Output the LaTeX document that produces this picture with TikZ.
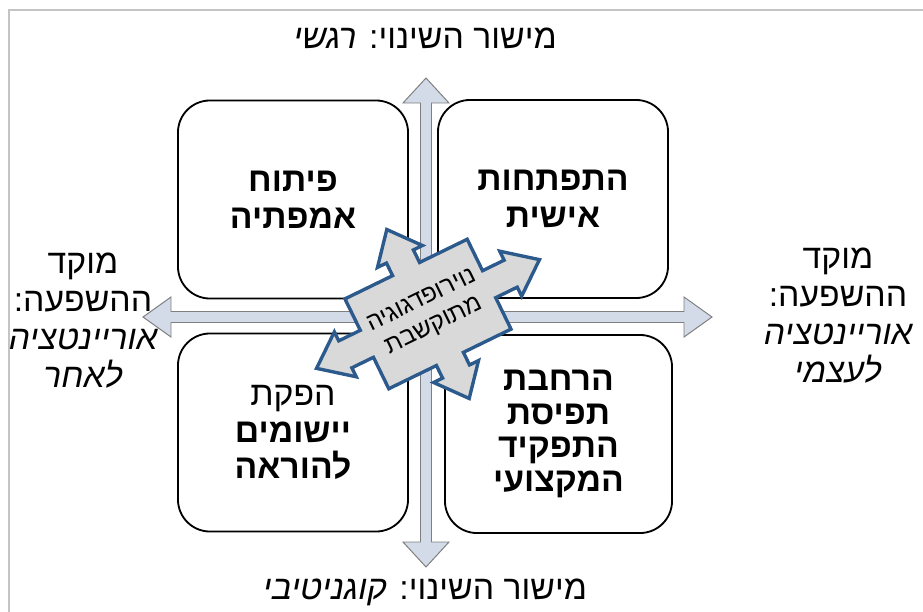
\documentclass[tikz,border=0pt]{standalone}
\usepackage{fontspec}
\setmainfont[Script=Hebrew]{Liberation Sans}
\TeXXeTstate=1
\newcommand{\heb}[1]{\beginR #1\endR}
\definecolor{axisfill}{HTML}{D3DAE8}
\definecolor{axisline}{HTML}{7F7F7F}
\definecolor{hubfill}{HTML}{D9D9D9}
\definecolor{hubline}{HTML}{2C5A8C}
\definecolor{framegrey}{HTML}{C4C4C4}
\def\Wbox{5.75cm}
\def\Hbox{4.95cm}
\tikzstyle{every node} = [font=\fontsize{24}{26}\selectfont]
\tikzstyle{quadrant} = [rectangle, minimum width=\Wbox, minimum height=\Hbox, rounded corners=0.8cm, draw=black, line width=1.3pt, fill=white, align=center, font=\fontsize{24}{26}\selectfont\bfseries]
\tikzstyle{axislabel} = [align=center, font=\fontsize{24}{27}\selectfont]
\tikzstyle{axis} = [draw=axisline, fill=axisfill, line width=0.7pt, line join=miter]
\tikzstyle{hubarrow} = [draw=hubline, fill=hubfill, line width=2.4pt, line join=miter]

\begin{document}
\begin{tikzpicture}[x=0.025cm, y=-0.025cm]
\useasboundingbox (0,0) rectangle (923,612);
% Frame
    \draw[framegrey, line width=1.5pt] (9,612) -- (9,10) -- (923,10);
% Axis texts
    \node (emo)   [axislabel] at (425,38)  {\heb{מישור השינוי: \textit{רגשי}}};
    \node (cog)   [axislabel] at (425,592) {\heb{מישור השינוי: \textit{קוגניטיבי}}};
    \node (other) [axislabel] at (83,321)  {\heb{מוקד}\\\heb{ההשפעה:}\\\heb{\textit{אוריינטציה}}\\\heb{\textit{לאחר}}};
    \node (self)  [axislabel] at (838,316) {\heb{מוקד}\\\heb{ההשפעה:}\\\heb{\textit{אוריינטציה}}\\\heb{\textit{לעצמי}}};
% Axes
    % vertical
    \draw[axis] (426,78) -- (449,103) -- (431.5,103) -- (431.5,542) -- (449,542) -- (426,567)
        -- (403,542) -- (420.5,542) -- (420.5,103) -- (403,103) -- cycle;
    % horizontal
    \draw[axis] (143,317) -- (171,297) -- (171,311.5) -- (684,311.5) -- (684,297) -- (712,317)
        -- (684,337) -- (684,322.5) -- (171,322.5) -- (171,337) -- cycle;
% Quadrants
    \node (empathy) [quadrant] at (293,199.5) {\heb{פיתוח}\\\heb{אמפתיה}};
    \node (growth)  [quadrant] at (553,199)   {\heb{התפתחות}\\\heb{אישית}};
    \node (apps)    [quadrant] at (293,432.5) {\heb{\mdseries הפקת}\\\heb{יישומים}\\\heb{להוראה}};
    \node (role)    [quadrant, minimum width=5.675cm, font=\fontsize{24}{24}\selectfont\bfseries] at (558.5,434)
        {\heb{הרחבת}\\\heb{תפיסת}\\\heb{התפקיד}\\\heb{המקצועי}};
% Hub
    \coordinate (hubc) at (428,314);
    \begin{scope}[shift={(hubc)}, rotate=26]
    \draw[hubarrow] (124,0) -- (92,-25) -- (92,-15) -- (68,-15) -- (68,-50) -- (15,-50) -- (15,-64)
        -- (25,-64) -- (0,-94) -- (-25,-64) -- (-15,-64) -- (-15,-50) -- (-68,-50) -- (-68,-15)
        -- (-92,-15) -- (-92,-25) -- (-124,0) -- (-92,25) -- (-92,15) -- (-68,15) -- (-68,50)
        -- (-15,50) -- (-15,64) -- (-25,64) -- (0,94) -- (25,64) -- (15,64) -- (15,50) -- (68,50)
        -- (68,15) -- (92,15) -- (92,25) -- cycle;
    \end{scope}
    \node (hub) [rotate=26, align=center, font=\fontsize{17.5}{20}\selectfont] at (hubc) {\heb{נוירופדגוגיה}\\\heb{מתוקשבת}};
\end{tikzpicture}
\end{document}
